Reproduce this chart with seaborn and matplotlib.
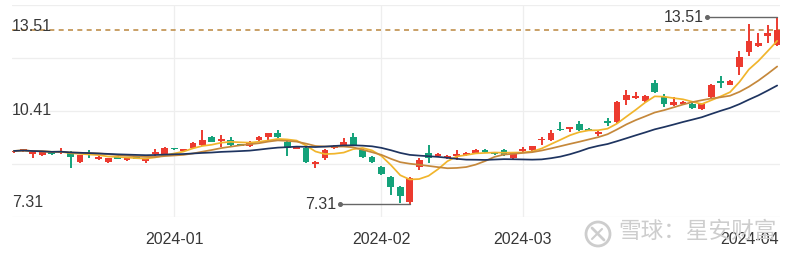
import numpy as np
import pandas as pd
import matplotlib
matplotlib.use("Agg")
import matplotlib.pyplot as plt
import seaborn as sns
from matplotlib.patches import Ellipse
from matplotlib.lines import Line2D

# ---------------- data (daily candles, index 0..81) ----------------
opens = [9.03, 9.07, 8.97, 8.93, 9.00, 9.00, 9.03, 8.70, 8.95, 8.80,
         8.70, 8.87, 8.77, 8.86, 8.74, 8.97, 8.93, 9.15, 9.07, 9.17,
         9.27, 9.53, 9.40, 9.43, 9.28, 9.23, 9.43, 9.53, 9.66, 9.37,
         9.15, 9.17, 8.65, 8.83, 9.17, 9.23, 9.53, 9.10, 8.87, 8.54,
         8.20, 7.87, 7.38, 8.54, 9.00, 8.90, 8.84, 8.90, 8.93, 9.00,
         9.08, 9.03, 9.10, 8.83, 9.08, 9.10, 9.42, 9.43, 9.78, 9.81,
         9.96, 9.80, 9.64, 10.05, 10.03, 10.76, 10.83, 10.72, 11.32, 10.86,
         10.59, 10.63, 10.63, 10.46, 10.86, 11.37, 11.26, 11.85, 12.35, 12.55,
         12.88, 12.58]
closes = [9.07, 9.10, 9.03, 9.03, 8.97, 9.07, 8.87, 8.93, 8.92, 8.87,
          8.83, 8.81, 8.83, 8.81, 8.80, 9.03, 9.17, 9.12, 9.13, 9.33,
          9.43, 9.37, 9.46, 9.27, 9.25, 9.37, 9.53, 9.66, 9.53, 9.17,
          9.18, 8.70, 8.68, 9.10, 9.23, 9.37, 9.27, 8.87, 8.70, 8.30,
          7.87, 7.58, 8.17, 8.77, 8.83, 8.97, 8.90, 8.97, 9.00, 9.10,
          9.05, 8.97, 8.93, 9.03, 9.11, 9.23, 9.45, 9.66, 9.75, 9.85,
          9.76, 9.74, 9.68, 10.01, 10.69, 10.92, 10.88, 10.89, 11.02, 10.63,
          10.69, 10.68, 10.49, 10.63, 11.26, 11.33, 11.39, 12.18, 12.71, 12.65,
          12.98, 13.08]
highs = [9.10, 9.13, 9.07, 9.05, 9.03, 9.17, 9.07, 8.95, 9.10, 8.90,
         8.85, 8.89, 8.85, 8.88, 8.82, 9.13, 9.20, 9.17, 9.15, 9.36,
         9.76, 9.56, 9.60, 9.53, 9.31, 9.40, 9.56, 9.68, 9.76, 9.40,
         9.22, 9.20, 8.73, 9.12, 9.26, 9.50, 9.66, 9.13, 8.89, 8.57,
         8.23, 7.91, 8.20, 8.83, 9.27, 9.00, 8.93, 9.10, 9.02, 9.12,
         9.13, 9.05, 9.12, 9.05, 9.20, 9.25, 9.53, 9.76, 10.03, 9.87,
         10.06, 9.82, 9.72, 10.16, 10.72, 11.09, 11.02, 10.91, 11.42, 10.96,
         10.86, 10.71, 10.66, 10.66, 11.29, 11.55, 11.41, 12.38, 13.28, 12.98,
         13.24, 13.51]
lows = [9.00, 9.05, 8.83, 8.91, 8.95, 8.98, 8.50, 8.67, 8.83, 8.78,
        8.67, 8.79, 8.75, 8.79, 8.67, 8.90, 8.90, 9.10, 9.05, 9.15,
        9.25, 9.35, 9.20, 9.25, 9.22, 9.20, 9.41, 9.40, 9.50, 8.90,
        9.12, 8.67, 8.50, 8.77, 9.15, 9.21, 9.25, 8.85, 8.67, 8.27,
        7.61, 7.34, 7.31, 8.44, 8.67, 8.87, 8.81, 8.77, 8.91, 8.98,
        9.00, 8.95, 8.91, 8.81, 9.05, 9.08, 9.27, 9.41, 9.72, 9.70,
        9.74, 9.72, 9.58, 9.90, 10.00, 10.59, 10.80, 10.70, 10.99, 10.53,
        10.56, 10.60, 10.46, 10.43, 10.79, 11.16, 11.24, 11.59, 12.22, 12.52,
        12.65, 12.55]
month_labels = ["2024-01", "2024-02", "2024-03", "2024-04"]
month_starts = [17, 39, 54, 75]
ma_windows = [5, 10, 20]
watermark = "雪球：星安财富"

# ---------------- styles ----------------
RED = "#ec3a2f"
GREEN = "#14a27a"
MA_COLORS = {5: "#f1b52c", 10: "#c5883b", 20: "#1e3460"}
TXT = "#383838"

sns.set_theme(style="white")
plt.rcParams["font.family"] = ["Liberation Sans", "DejaVu Sans"]

df = pd.DataFrame({"i": np.arange(len(closes)), "open": opens, "close": closes,
                   "high": highs, "low": lows})
for w in ma_windows:
    df[f"ma{w}"] = df["close"].rolling(w, min_periods=1).mean()

fig = plt.figure(figsize=(8, 2.56), dpi=100)
fig.patch.set_facecolor("white")
ax = fig.add_axes([0.015, 0.1523, 0.96, 0.828])
ax.set_facecolor("white")

hi = df["high"].max()
lo = df["low"].min()
span = hi - lo
ylo, yhi = lo - span * 13 / 187, hi + span * 12 / 187
ax.set_ylim(ylo, yhi)
ax.set_xlim(-0.21, len(df) - 1 + 0.3)

# grid
for g in np.linspace(ylo, yhi, 5):
    ax.axhline(g, color="#eeeeee", lw=0.9, zorder=0)
for m in month_starts[:3]:
    ax.axvline(m, color="#eeeeee", lw=0.9, zorder=0)

# candles
up = df["close"] >= df["open"]
cols = np.where(up, RED, GREEN)
ax.vlines(df["i"], df["low"], df["high"], colors=cols, lw=1.4, zorder=3)
body_lo = np.minimum(df["open"], df["close"])
body_h = np.maximum((df["close"] - df["open"]).abs(), 0.05)
ax.bar(df["i"], body_h, bottom=body_lo, width=0.72, color=cols, zorder=4, linewidth=0)

# moving averages
for w in ma_windows:
    sns.lineplot(data=df, x="i", y=f"ma{w}", ax=ax, color=MA_COLORS[w], lw=1.25,
                 zorder=5, legend=False)

# last close dashed line
ax.axhline(df["close"].iloc[-1], color="#c0904d", lw=1.2, ls=(0, (3, 2.6)), zorder=2)

# left side price labels (max / mid / min)
mid = (hi + lo) / 2
for val, dy in [(hi, -6.6), (mid, 0.0), (lo, 1.2)]:
    ax.annotate(f"{val:.2f}", xy=(0, val), xycoords=("axes fraction", "data"),
                xytext=(0, dy), textcoords="offset points", ha="left", va="center",
                fontsize=11.5, color=TXT, zorder=6)

# max / min markers
imax = int(df["high"].idxmax())
imin = int(df["low"].idxmin())
for idx, val in [(imax, hi), (imin, lo)]:
    x0 = idx - 7.4
    ax.plot([x0, idx], [val, val], color="#666666", lw=1.0, zorder=6)
    ax.plot([x0], [val], "o", color="#666666", ms=2.6, zorder=6)
    ax.annotate(f"{val:.2f}", xy=(x0, val), xytext=(-3, 0), textcoords="offset points",
                ha="right", va="center", fontsize=11.5, color=TXT, zorder=6)

# x axis
ax.set_xticks(month_starts)
ax.set_xticklabels(month_labels)
ax.tick_params(axis="x", length=0, pad=11, labelsize=11.5, labelcolor=TXT)
ax.tick_params(axis="y", left=False, labelleft=False)
ax.get_xticklabels()[-1].set_ha("left")
ax.set_xlabel("")
ax.set_ylabel("")
for s in ax.spines.values():
    s.set_visible(False)

# watermark
fig.text(618 / 800, 1 - 231 / 256, watermark, family=["Noto Sans CJK SC", "DejaVu Sans"],
         fontsize=16.3, color="#cdcdcd", ha="left", va="center", zorder=1)
cx, cy = 598 / 800, 1 - 234 / 256
fig.patches.append(Ellipse((cx, cy), 24 / 800, 24 / 256, transform=fig.transFigure,
                           fill=False, ec="#cdcdcd", lw=2.0))
fig.lines.append(Line2D([cx - 6 / 800, cx + 6 / 800], [cy + 6 / 256, cy - 6 / 256],
                        transform=fig.transFigure, color="#cdcdcd", lw=2.0))
fig.lines.append(Line2D([cx - 6 / 800, cx + 4 / 800], [cy - 5 / 256, cy + 5 / 256],
                        transform=fig.transFigure, color="#cdcdcd", lw=1.5))

fig.savefig("out.png", dpi=100, facecolor="white")
